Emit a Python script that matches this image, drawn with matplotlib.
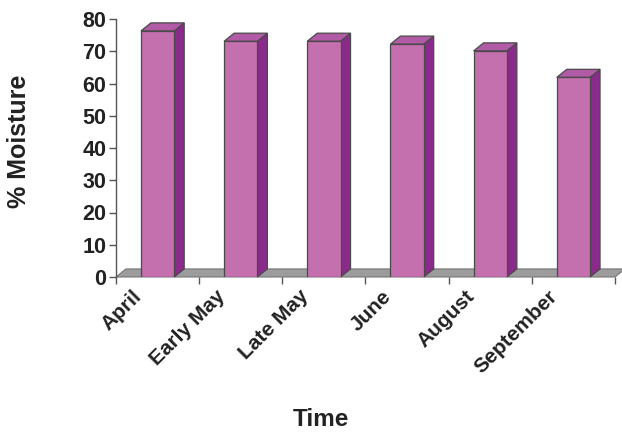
import matplotlib.pyplot as plt
from matplotlib.patches import Polygon
from matplotlib.transforms import ScaledTranslation

# Moisture content by sampling time
months = ["April", "Early May", "Late May", "June", "August", "September"]
moisture = [76.3, 73.1, 73.1, 72.2, 70.1, 61.9]
y_ticks = [0, 10, 20, 30, 40, 50, 60, 70, 80]

plt.rcParams["font.family"] = ["Liberation Sans", "DejaVu Sans"]
plt.rcParams["font.weight"] = "bold"

front_col = "#c46fae"
side_col = "#8a2b8c"
top_col = "#b15aa6"
edge_col = "#4a4a4a"
floor_col = "#9c9c9c"
text_col = "#222222"

fig = plt.figure(figsize=(6.22, 4.32), dpi=100)
ax = fig.add_axes([116 / 622, 1 - 277 / 432, 499 / 622, 258 / 432])

n = len(months)
xs = list(range(n))
half = 0.2
# depth of the fake 3D effect in data units
dx, dy = 0.12, 2.5

ax.set_xlim(-0.5, n - 0.5)
ax.set_ylim(0, 80)

# gray floor under the bars
floor = Polygon([(-0.5, 0), (n - 0.5, 0), (n - 0.5 + dx, dy), (-0.5 + dx, dy)],
                closed=True, facecolor=floor_col, edgecolor="#777777",
                linewidth=0.8, clip_on=False, zorder=1)
ax.add_patch(floor)

# front faces
ax.bar(xs, moisture, width=2 * half, color=front_col, edgecolor=edge_col,
       linewidth=0.9, zorder=4)

# side and top faces
for x, v in zip(xs, moisture):
    side = Polygon([(x + half, 0), (x + half + dx, dy), (x + half + dx, v + dy), (x + half, v)],
                   closed=True, facecolor=side_col, edgecolor=edge_col,
                   linewidth=0.9, clip_on=False, zorder=3)
    top = Polygon([(x - half, v), (x - half + dx, v + dy), (x + half + dx, v + dy), (x + half, v)],
                  closed=True, facecolor=top_col, edgecolor=edge_col,
                  linewidth=0.9, clip_on=False, zorder=3)
    ax.add_patch(side)
    ax.add_patch(top)

# axes styling
for s in ["top", "right", "bottom"]:
    ax.spines[s].set_visible(False)
ax.spines["left"].set_color("#555555")
ax.spines["left"].set_linewidth(1.0)

ax.set_yticks(y_ticks)
ax.set_yticklabels([str(t) for t in y_ticks], fontsize=15.5, fontweight="bold", color=text_col)
ax.tick_params(axis="y", length=5, width=1, color="#555555", pad=2)

ax.set_xticks(xs)
ax.set_xticklabels(months, rotation=45, ha="right", va="top",
                   fontsize=15, fontweight="bold", color=text_col)
ax.set_xticks([i - 0.5 for i in range(n + 1)], minor=True)
ax.tick_params(axis="x", which="major", length=0, pad=7)
ax.tick_params(axis="x", which="minor", length=5, width=1, color="#555555")
shift = ScaledTranslation(-12 / 100, 0, fig.dpi_scale_trans)
for lab in ax.get_xticklabels():
    lab.set_transform(lab.get_transform() + shift)

fig.text(19 / 622, 1 - 141 / 432, "% Moisture", rotation=90, ha="center", va="center",
         fontsize=18, fontweight="bold", color=text_col)
fig.text(321 / 622, 1 - 420 / 432, "Time", ha="center", va="center",
         fontsize=17.5, fontweight="bold", color=text_col)

fig.savefig("out.png", dpi=100, facecolor="white")
